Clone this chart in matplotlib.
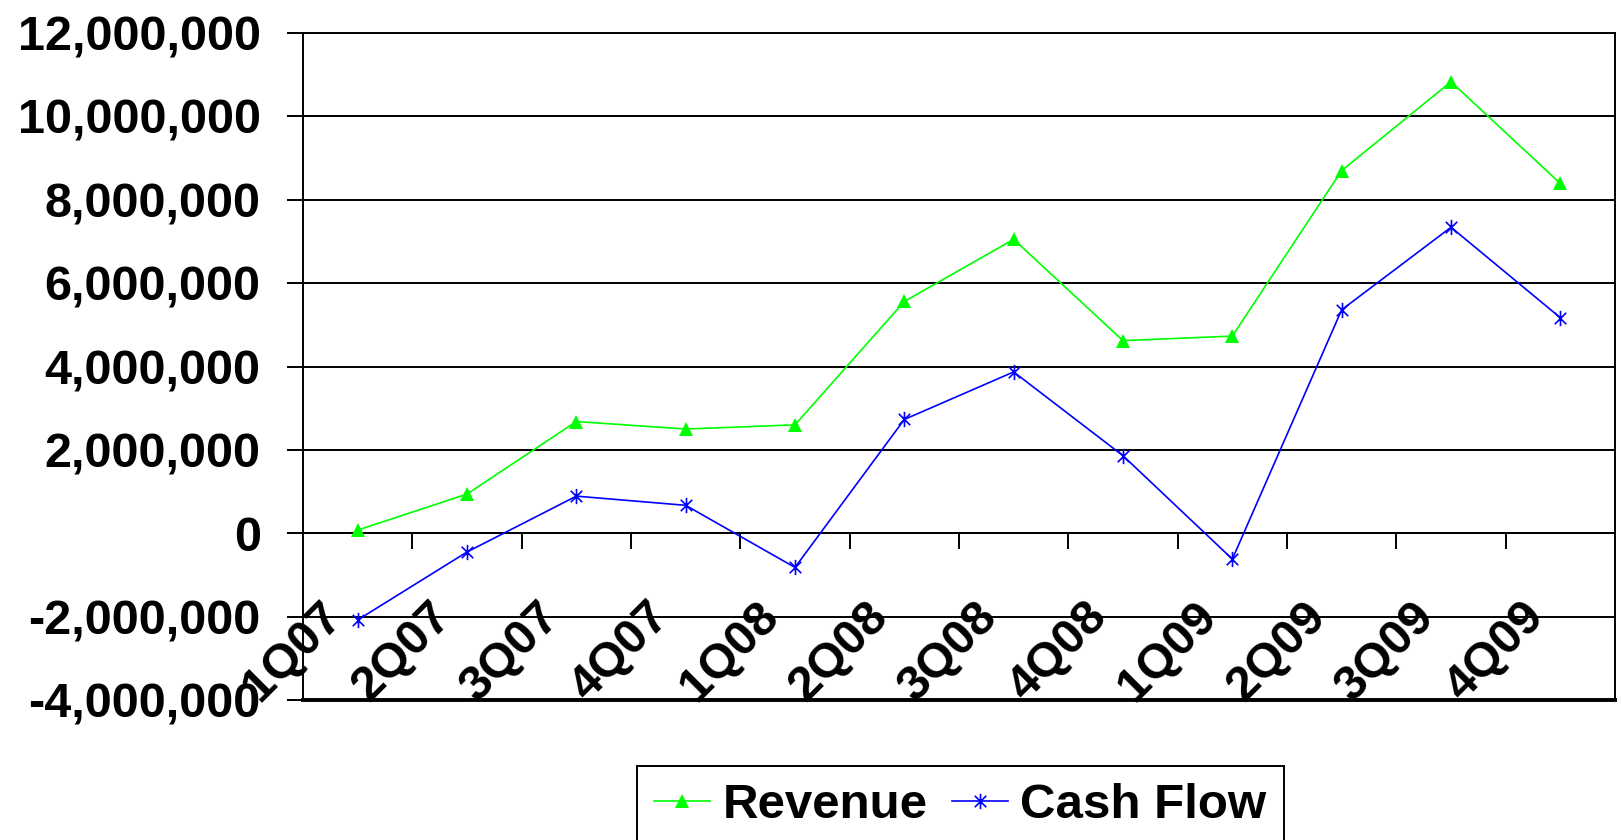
import matplotlib
matplotlib.use("Agg")
import matplotlib.pyplot as plt
from matplotlib.ticker import FuncFormatter, FixedLocator
from matplotlib.transforms import ScaledTranslation
from matplotlib.path import Path
import numpy as np

categories = ["1Q07", "2Q07", "3Q07", "4Q07", "1Q08", "2Q08", "3Q08", "4Q08",
              "1Q09", "2Q09", "3Q09", "4Q09"]
revenue = [75000, 940000, 2680000, 2500000, 2600000, 5560000, 7050000, 4620000,
           4730000, 8700000, 10830000, 8390000]
cash_flow = [-2080000, -450000, 890000, 670000, -820000, 2730000, 3870000, 1860000,
             -620000, 5360000, 7340000, 5170000]
y_ticks = [-4000000, -2000000, 0, 2000000, 4000000, 6000000, 8000000, 10000000, 12000000]

plt.rcParams['font.family'] = ['Liberation Sans', 'DejaVu Sans']
plt.rcParams['font.weight'] = 'bold'

# Excel-style star marker: an X with a vertical bar
star = Path([(0, -1), (0, 1), (-0.75, -0.75), (0.75, 0.75), (-0.75, 0.75), (0.75, -0.75)],
            [Path.MOVETO, Path.LINETO, Path.MOVETO, Path.LINETO, Path.MOVETO, Path.LINETO])

W, H = 1621, 840
fig = plt.figure(figsize=(W / 100, H / 100), dpi=100)
ax = fig.add_axes([303 / W, 1 - 700 / H, (1615 - 303) / W, (700 - 33) / H])

x = np.arange(len(categories))
ax.plot(x, revenue, color='#00FF00', lw=1.2, marker='^', ms=10,
        markeredgewidth=0, label='Revenue', zorder=3)
ax.plot(x, cash_flow, color='#0000FF', lw=1.2, marker=star, ms=11,
        markeredgewidth=1.2, markeredgecolor='#0000FF', label='Cash Flow', zorder=3)

ax.set_xlim(-0.5, len(categories) - 0.5)
ax.set_ylim(y_ticks[0], y_ticks[-1])
ax.set_yticks(y_ticks)
ax.yaxis.set_major_formatter(FuncFormatter(lambda v, p: f"{int(v):,}"))
ax.tick_params(axis='y', direction='out', length=11.5, width=1.4, pad=19,
               labelsize=35, colors='black')
for lab in ax.get_yticklabels():
    lab.set_fontweight('bold')

ax.yaxis.grid(True, color='black', lw=1.4)
ax.set_axisbelow(True)

# category axis at zero
ax.spines['bottom'].set_position(('data', 0))
ax.spines['bottom'].set_linewidth(1.4)
ax.set_xticks([])
ax.xaxis.set_minor_locator(FixedLocator(np.arange(0.5, len(categories) - 0.5, 1.0)))
ax.tick_params(axis='x', which='minor', direction='out', length=11.5, width=1.4)
for s in ['left', 'right', 'top']:
    ax.spines[s].set_linewidth(1.4)
    ax.spines[s].set_color('black')
ax.axhline(y_ticks[0], color='black', lw=2.8, clip_on=False, zorder=2)

off = ScaledTranslation(-39 / 100, -61 / 100, fig.dpi_scale_trans)
for i, c in enumerate(categories):
    ax.text(i, 0, c, transform=ax.transData + off, rotation=45,
            rotation_mode='anchor', ha='right', va='top', fontsize=35,
            fontweight='bold', clip_on=False)

leg = fig.legend(loc='upper left', bbox_to_anchor=(637 / W, 1 - 766 / H), ncol=2,
                 prop={'weight': 'bold', 'size': 35.5},
                 frameon=True, fancybox=False, edgecolor='black', framealpha=1,
                 handlelength=1.13, handletextpad=0.26, columnspacing=0.49,
                 borderpad=0.35, borderaxespad=0, markerscale=1.0)
leg.get_frame().set_linewidth(1.4)

fig.savefig("out.png", dpi=100)
